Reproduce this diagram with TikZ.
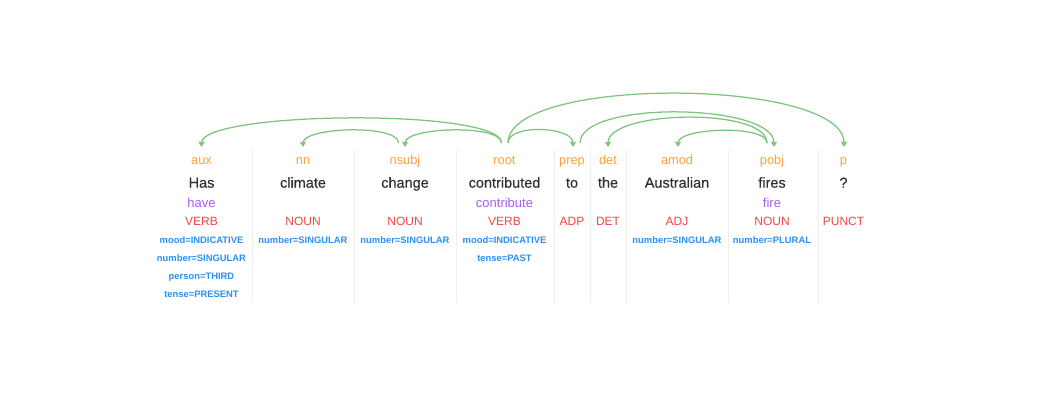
\documentclass[tikz,border=0pt]{standalone}
\usepackage{fontspec}
\setmainfont{Liberation Sans}
\newfontfamily\medfont{Liberation Sans}[FakeBold=0.45]
\usetikzlibrary{arrows.meta}
\definecolor{lblc}{HTML}{FF9F3A}
\definecolor{wordc}{HTML}{303030}
\definecolor{lemc}{HTML}{A65CF0}
\definecolor{posc}{HTML}{F04646}
\definecolor{featc}{HTML}{2A8FF0}
\definecolor{arcc}{HTML}{7CC47C}
\definecolor{sepc}{HTML}{EEEEEE}
\begin{document}
\begin{tikzpicture}[x=1pt,y=-1pt,
 lbl/.style={anchor=base,inner sep=0pt,text=lblc,font=\fontsize{12.8}{14}\selectfont},
 wrd/.style={anchor=base,inner sep=0pt,text=wordc,font=\medfont\fontsize{14.5}{16}\selectfont},
 lem/.style={anchor=base,inner sep=0pt,text=lemc,font=\fontsize{13}{15}\selectfont},
 postag/.style={anchor=base,inner sep=0pt,text=posc,font=\fontsize{12}{14}\selectfont},
 feat/.style={anchor=base,inner sep=0pt,text=featc,font=\fontsize{9.4}{11}\selectfont\bfseries},
 sep/.style={draw=sepc,line width=0.8pt},
 deparc/.style={draw=arcc,line width=1.25pt,-{Stealth[length=5.5pt,width=6.5pt,inset=1pt]}}]
\useasboundingbox (0,0) rectangle (1064,410);
% separators
\foreach \sx in {252,354,456,554,590.5,626,728,818}
  \draw[sep] (\sx,150) -- (\sx,303);
% column 1
\node[lbl] (l1) at (201.5,164) {aux};
\node[wrd] (w1) at (201.5,187.7) {Has};
\node[lem] (m1) at (201.5,207) {have};
\node[postag] (p1) at (201.5,225.7) {VERB};
\node[feat] (f1a) at (201.5,243.5) {mood=INDICATIVE};
\node[feat] (f1b) at (201.5,261.5) {number=SINGULAR};
\node[feat] (f1c) at (201.5,279.5) {person=THIRD};
\node[feat] (f1d) at (201.5,297.5) {tense=PRESENT};
% column 2
\node[lbl] (l2) at (303,164) {nn};
\node[wrd] (w2) at (303,187.7) {climate};
\node[postag] (p2) at (303,225.7) {NOUN};
\node[feat] (f2a) at (303,243.5) {number=SINGULAR};
% column 3
\node[lbl] (l3) at (405,164) {nsubj};
\node[wrd] (w3) at (405,187.7) {change};
\node[postag] (p3) at (405,225.7) {NOUN};
\node[feat] (f3a) at (405,243.5) {number=SINGULAR};
% column 4
\node[lbl] (l4) at (504.5,164) {root};
\node[wrd] (w4) at (504.5,187.7) {contributed};
\node[lem] (m4) at (504.5,207) {contribute};
\node[postag] (p4) at (504.5,225.7) {VERB};
\node[feat] (f4a) at (504.5,243.5) {mood=INDICATIVE};
\node[feat] (f4b) at (504.5,261.5) {tense=PAST};
% column 5
\node[lbl] (l5) at (572,164) {prep};
\node[wrd] (w5) at (572,187.7) {to};
\node[postag] (p5) at (572,225.7) {ADP};
% column 6
\node[lbl] (l6) at (608,164) {det};
\node[wrd] (w6) at (608,187.7) {the};
\node[postag] (p6) at (608,225.7) {DET};
% column 7
\node[lbl] (l7) at (677,164) {amod};
\node[wrd] (w7) at (677,187.7) {Australian};
\node[postag] (p7) at (677,225.7) {ADJ};
\node[feat] (f7a) at (677,243.5) {number=SINGULAR};
% column 8
\node[lbl] (l8) at (772,164) {pobj};
\node[wrd] (w8) at (772,187.7) {fires};
\node[lem] (m8) at (772,207) {fire};
\node[postag] (p8) at (772,225.7) {NOUN};
\node[feat] (f8a) at (772,243.5) {number=PLURAL};
% column 9
\node[lbl] (l9) at (843.5,164) {p};
\node[wrd] (w9) at (843.5,187.7) {?};
\node[postag] (p9) at (843.5,225.7) {PUNCT};
% arc anchors
\coordinate (rootL) at (501.5,143);
\coordinate (rootR) at (508,143);
\coordinate (nsubjL) at (398.5,143);
\coordinate (prepR) at (580,143);
\coordinate (pobjL) at (767,143);
\coordinate (tAux) at (201.5,147);
\coordinate (tNn) at (303,147);
\coordinate (tNsubj) at (405,147);
\coordinate (tPrep) at (573,147);
\coordinate (tDet) at (608,147);
\coordinate (tAmod) at (678,147);
\coordinate (tPobj) at (774,147);
\coordinate (tP) at (844,147);
% arcs
\draw[deparc] (rootL) .. controls +(0,-35) and +(0,-36) .. (tAux);
\draw[deparc] (rootL) .. controls +(0,-19) and +(0,-20) .. (tNsubj);
\draw[deparc] (nsubjL) .. controls +(0,-19) and +(0,-20) .. (tNn);
\draw[deparc] (rootR) .. controls +(0,-19.5) and +(0,-20.5) .. (tPrep);
\draw[deparc] (rootR) .. controls +(0,-68) and +(0,-69) .. (tP);
\draw[deparc] (prepR) .. controls +(0,-43) and +(0,-44) .. (tPobj);
\draw[deparc] (pobjL) .. controls +(0,-36) and +(0,-37) .. (tDet);
\draw[deparc] (pobjL) .. controls +(0,-18.5) and +(0,-19.5) .. (tAmod);
\end{tikzpicture}
\end{document}
